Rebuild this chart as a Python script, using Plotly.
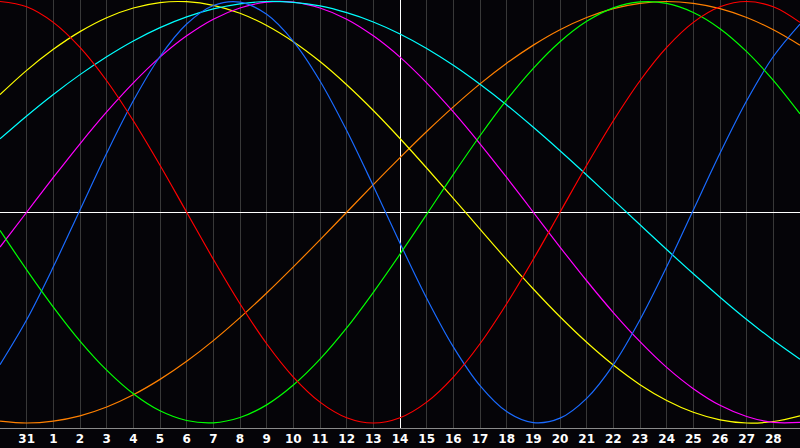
import plotly.graph_objs as go

# day slots across the chart, 0..30 (gridlines sit on 1..29)
days = list(range(31))
tick_pos = list(range(1, 30))
tick_labels = ["31"] + [str(d) for d in range(1, 29)]
today_pos = 15  # "14"

# curve values, one per day slot
red = [1.000, 0.975, 0.901, 0.782, 0.624, 0.434, 0.223, 0.000, -0.223, -0.434,
       -0.624, -0.782, -0.901, -0.975, -1.000, -0.975, -0.901, -0.782, -0.624, -0.434,
       -0.223, 0.000, 0.223, 0.434, 0.624, 0.782, 0.901, 0.975, 1.000, 0.975, 0.901]
green = [-0.086, -0.273, -0.450, -0.611, -0.749, -0.861, -0.942, -0.988, -0.999, -0.974,
         -0.914, -0.820, -0.697, -0.549, -0.380, -0.199, -0.010, 0.180, 0.363, 0.533,
         0.683, 0.809, 0.906, 0.970, 0.998, 0.991, 0.948, 0.871, 0.762, 0.626, 0.467]
blue = [-0.723, -0.510, -0.259, 0.011, 0.280, 0.529, 0.739, 0.893, 0.981, 0.997,
        0.939, 0.811, 0.623, 0.388, 0.125, -0.147, -0.408, -0.639, -0.823, -0.946,
        -0.998, -0.977, -0.883, -0.724, -0.510, -0.259, 0.011, 0.280, 0.529, 0.739, 0.893]
cyan = [0.348, 0.457, 0.559, 0.653, 0.738, 0.813, 0.876, 0.927, 0.965, 0.989,
        1.000, 0.996, 0.979, 0.947, 0.903, 0.846, 0.777, 0.697, 0.607, 0.509,
        0.403, 0.292, 0.177, 0.059, -0.059, -0.177, -0.292, -0.403, -0.509, -0.607, -0.697]
magenta = [-0.165, 0.000, 0.165, 0.325, 0.476, 0.614, 0.736, 0.837, 0.916, 0.969,
           0.997, 0.997, 0.969, 0.916, 0.837, 0.736, 0.614, 0.476, 0.325, 0.165,
           0.000, -0.165, -0.325, -0.476, -0.614, -0.736, -0.837, -0.916, -0.969, -0.997, -0.997]
yellow = [0.558, 0.673, 0.773, 0.857, 0.923, 0.969, 0.995, 0.999, 0.982, 0.944,
          0.886, 0.809, 0.715, 0.605, 0.483, 0.350, 0.210, 0.066, -0.080, -0.225,
          -0.364, -0.496, -0.617, -0.725, -0.818, -0.893, -0.949, -0.985, -1.000, -0.993, -0.966]
orange = [-0.991, -1.000, -0.991, -0.966, -0.924, -0.866, -0.793, -0.707, -0.609, -0.500,
          -0.383, -0.259, -0.131, 0.000, 0.131, 0.259, 0.383, 0.500, 0.609, 0.707,
          0.793, 0.866, 0.924, 0.966, 0.991, 1.000, 0.991, 0.966, 0.924, 0.866, 0.793]

series = [
    (orange, "#ff8000"),
    (yellow, "#ffff00"),
    (magenta, "#ff00ff"),
    (cyan, "#00ffff"),
    (blue, "#1a6bff"),
    (green, "#00ff00"),
    (red, "#ff0000"),
]

bg = "#050408"
y_lo, y_hi = -1.0237, 1.0071
half_px = 0.5 * 30 / 800  # nudge the white line onto a whole pixel

traces = []
# "today" marker, drawn first so the curves sit on top of it
traces.append(go.Scatter(x=[today_pos + half_px, today_pos + half_px], y=[y_lo, y_hi],
                         mode="lines", line=dict(color="white", width=1), hoverinfo="skip"))
for ys, col in series:
    traces.append(go.Scatter(x=days, y=ys, mode="lines", line_shape="spline",
                             line=dict(color=col, width=1.2), hoverinfo="skip"))

layout = go.Layout(
    width=800, height=448,
    margin=dict(l=0, r=0, t=0, b=20),
    paper_bgcolor=bg, plot_bgcolor=bg,
    showlegend=False,
    xaxis=dict(range=[0, 30], tickvals=tick_pos,
               ticktext=["<b>{}</b>".format(t) for t in tick_labels],
               tickfont=dict(family="DejaVu Sans", size=12, color="white"),
               ticks="", showgrid=True, gridcolor="#383838", gridwidth=1,
               zeroline=False, showline=True, linecolor="#8a8a8a", linewidth=1,
               mirror=True, fixedrange=True),
    yaxis=dict(range=[y_lo, y_hi], showgrid=False, zeroline=True,
               zerolinecolor="white", zerolinewidth=1,
               showticklabels=False, ticks="", showline=True,
               linecolor="#8a8a8a", linewidth=1, fixedrange=True),
)

fig = go.Figure(traces, layout=layout)
fig.write_html("out.html", config={"displayModeBar": False},
               post_script="document.body.style.margin='0';")
